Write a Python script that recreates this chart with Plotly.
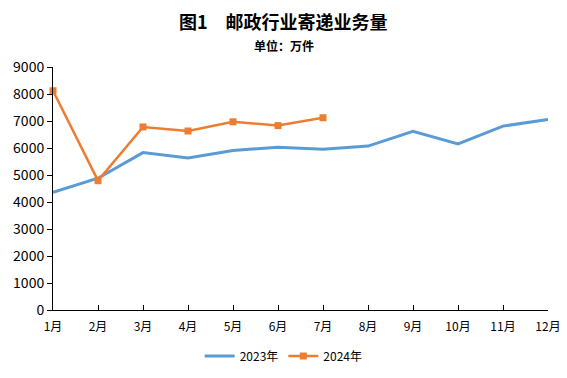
import plotly.graph_objects as go

months = ["1月", "2月", "3月", "4月", "5月", "6月", "7月", "8月", "9月", "10月", "11月", "12月"]
values_2023 = [4360, 4880, 5830, 5630, 5910, 6030, 5950, 6070, 6620, 6150, 6810, 7060]
values_2024 = [8120, 4790, 6780, 6630, 6970, 6830, 7120]
y_ticks = [0, 1000, 2000, 3000, 4000, 5000, 6000, 7000, 8000, 9000]

font_family = "Noto Sans CJK SC, Noto Sans, sans-serif"

fig = go.Figure()
fig.add_trace(go.Scatter(
    x=months, y=values_2023, name="2023年", mode="lines",
    line=dict(color="#5B9BD5", width=3), cliponaxis=False,
))
fig.add_trace(go.Scatter(
    x=months[:len(values_2024)], y=values_2024, name="2024年", mode="lines+markers",
    line=dict(color="#ED7D31", width=2.5),
    marker=dict(symbol="square", size=7, color="#ED7D31"), cliponaxis=False,
))

fig.update_layout(
    width=567, height=378,
    margin=dict(l=53, r=19, t=67, b=68, autoexpand=False),
    paper_bgcolor="white", plot_bgcolor="white",
    font=dict(family=font_family, color="black", size=12),
    annotations=[
        dict(text="<b>图1　邮政行业寄递业务量</b>", xref="paper", yref="paper",
             x=0.466, y=1, yshift=46, xanchor="center", yanchor="middle",
             showarrow=False, font=dict(size=18, family=font_family)),
        dict(text="<b>单位：万件</b>", xref="paper", yref="paper",
             x=0.466, y=1, yshift=22, xanchor="center", yanchor="middle",
             showarrow=False, font=dict(size=12, family=font_family)),
    ],
    showlegend=True,
    legend=dict(orientation="h", x=0.466, xanchor="center", y=-0.13, yanchor="top",
                font=dict(size=12), itemwidth=30, tracegroupgap=0),
)
fig.update_xaxes(
    type="category", range=[0, 11], showline=True, linecolor="black", linewidth=1,
    ticks="inside", ticklen=5, tickcolor="black", showgrid=False,
    tickfont=dict(size=12), zeroline=False, automargin=False, ticklabelstandoff=6,
)
fig.update_yaxes(
    range=[0, 9000], tickvals=y_ticks, showline=True, linecolor="black", linewidth=1,
    ticks="outside", ticklen=5, tickcolor="black", showgrid=False, zeroline=False,
    tickfont=dict(size=14), automargin=False,
)

fig.write_html("out.html", config={"displayModeBar": False},
               post_script="document.body.style.margin='0';")
